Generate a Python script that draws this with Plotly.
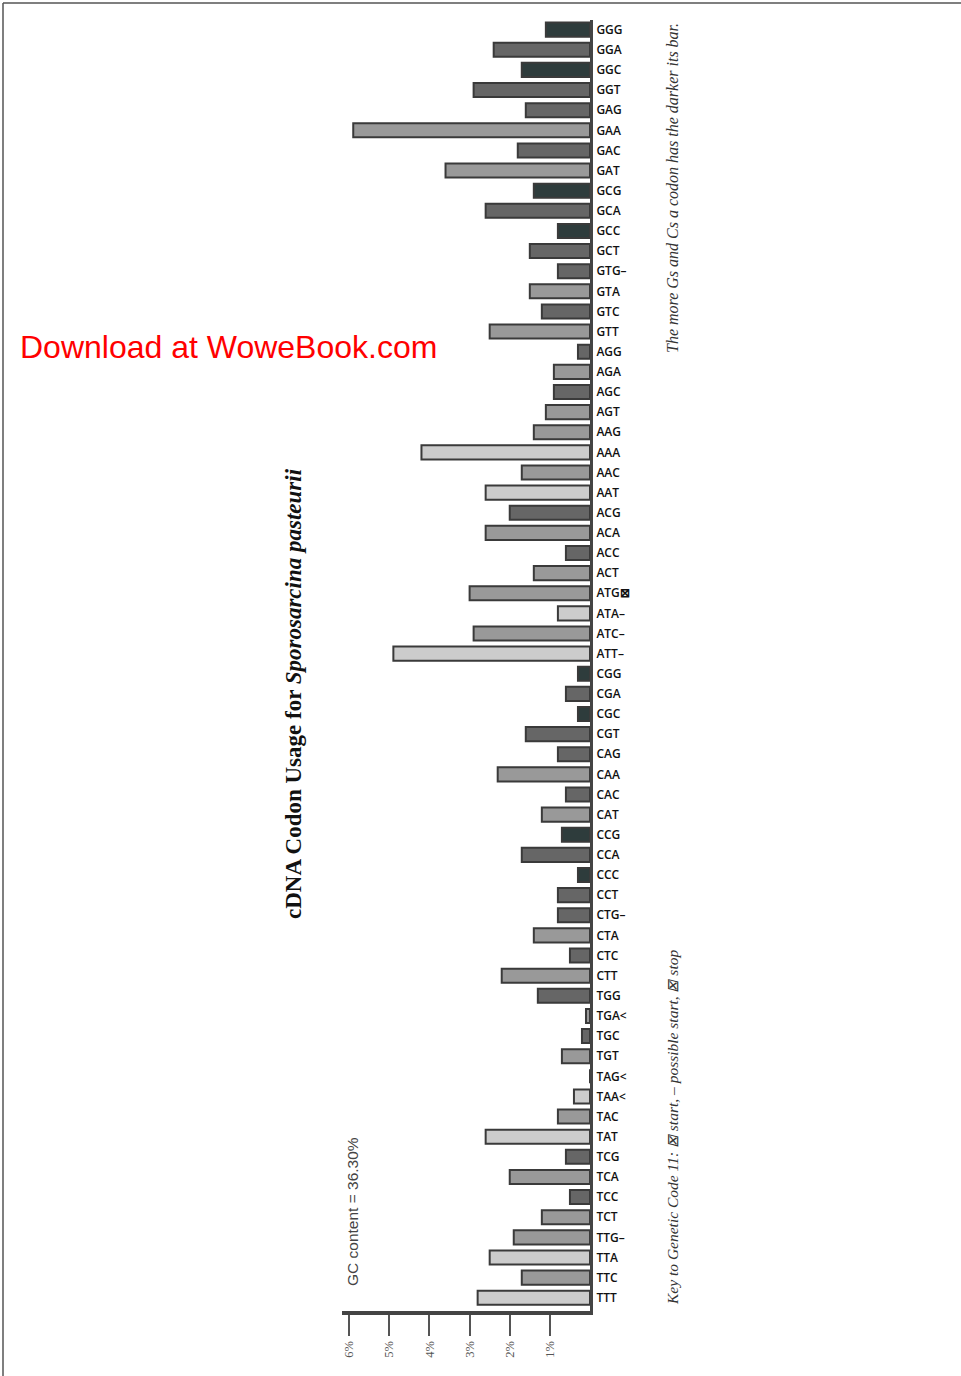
import plotly.graph_objects as go

codons = [
    "GGG", "GGA", "GGC", "GGT", "GAG", "GAA", "GAC", "GAT",
    "GCG", "GCA", "GCC", "GCT", "GTG", "GTA", "GTC", "GTT",
    "AGG", "AGA", "AGC", "AGT", "AAG", "AAA", "AAC", "AAT",
    "ACG", "ACA", "ACC", "ACT", "ATG", "ATA", "ATC", "ATT",
    "CGG", "CGA", "CGC", "CGT", "CAG", "CAA", "CAC", "CAT",
    "CCG", "CCA", "CCC", "CCT", "CTG", "CTA", "CTC", "CTT",
    "TGG", "TGA", "TGC", "TGT", "TAG", "TAA", "TAC", "TAT",
    "TCG", "TCA", "TCC", "TCT", "TTG", "TTA", "TTC", "TTT",
]

# usage in percent
usage_pct = [
    1.1, 2.4, 1.7, 2.9, 1.6, 5.9, 1.8, 3.6,
    1.4, 2.6, 0.8, 1.5, 0.8, 1.5, 1.2, 2.5,
    0.3, 0.9, 0.9, 1.1, 1.4, 4.2, 1.7, 2.6,
    2.0, 2.6, 0.6, 1.4, 3.0, 0.8, 2.9, 4.9,
    0.3, 0.6, 0.3, 1.6, 0.8, 2.3, 0.6, 1.2,
    0.7, 1.7, 0.3, 0.8, 0.8, 1.4, 0.5, 2.2,
    1.3, 0.1, 0.2, 0.7, 0.0, 0.4, 0.8, 2.6,
    0.6, 2.0, 0.5, 1.2, 1.9, 2.5, 1.7, 2.8,
]

# genetic code 11 markers
start_codons = ["ATG"]
possible_start = ["GTG", "ATA", "ATC", "ATT", "CTG", "TTG"]
stop_codons = ["TGA", "TAG", "TAA"]

tick_vals = [1, 2, 3, 4, 5, 6]
tick_text = ["1%", "2%", "3%", "4%", "5%", "6%"]

gc_colors = {0: "#cccccc", 1: "#999999", 2: "#666666", 3: "#2e3c3c"}


def label_for(c):
    if c in start_codons:
        return c + "\u22a0"
    if c in possible_start:
        return c + "\u2013"
    if c in stop_codons:
        return c + "<"
    return c


labels = [label_for(c) for c in codons]
colors = [gc_colors[c.count("G") + c.count("C")] for c in codons]

# page geometry (pixels); body margin is removed in post_script
W, H = 961, 1376
L, R, T, B = 342, 590, 20, 1311


def px_x(px):
    return (px - L) / (R - L)


def px_y(py):
    return (B - py) / (B - T)


fig = go.Figure(
    go.Bar(
        x=usage_pct,
        y=labels,
        orientation="h",
        marker=dict(color=colors, line=dict(color="#3a3a3a", width=2)),
        hoverinfo="x+y",
    )
)

fig.update_layout(
    width=W,
    height=H,
    margin=dict(l=L, r=W - R, t=T, b=H - B),
    plot_bgcolor="white",
    paper_bgcolor="white",
    bargap=0.3,
    showlegend=False,
)

fig.update_xaxes(
    range=[6.18, 0],
    tickvals=tick_vals,
    ticktext=tick_text,
    tickangle=-90,
    ticks="outside",
    ticklen=21,
    tickwidth=2,
    tickcolor="#555555",
    tickfont=dict(family="Liberation Serif", size=12.5, color="#555555"),
    showline=True,
    linewidth=4,
    linecolor="#444444",
    showgrid=False,
    zeroline=False,
)

fig.update_yaxes(
    categoryorder="array",
    categoryarray=labels,
    range=[63.66, -0.48],
    side="right",
    showline=True,
    linewidth=3,
    linecolor="#444444",
    ticks="",
    ticklabelstandoff=1,
    tickfont=dict(family="Open Sans", size=12, color="#111111", weight=600),
    showgrid=False,
)

# page frame
fig.add_shape(type="line", xref="paper", yref="paper",
              x0=px_x(3), x1=px_x(W + 10), y0=px_y(3), y1=px_y(3),
              line=dict(color="#555555", width=1.5))
fig.add_shape(type="line", xref="paper", yref="paper",
              x0=px_x(3), x1=px_x(3), y0=px_y(3), y1=px_y(H + 10),
              line=dict(color="#555555", width=1.5))

notes = [
    (293, 694, "<b>cDNA Codon Usage for <i>Sporosarcina pasteurii</i></b>", -90,
     dict(family="Liberation Serif", size=23, color="#111111")),
    (352, 1212, "GC content = 36.30%", -90,
     dict(family="Liberation Sans", size=15.5, color="#444444")),
    (672, 188, "<i>The more Gs and Cs a codon has the darker its bar.</i>", -90,
     dict(family="Liberation Serif", size=16, color="#333333")),
    (672, 1128, "<i>Key to Genetic Code 11: \u22a0 start, \u2013 possible start, \u22a0 stop</i>", -90,
     dict(family="Liberation Serif", size=15.5, color="#333333")),
    (228, 347, "Download at WoweBook.com", 0,
     dict(family="Liberation Sans", size=32, color="#ff0000")),
]
for px, py, text, ang, font in notes:
    fig.add_annotation(
        x=px_x(px), y=px_y(py), xref="paper", yref="paper",
        xanchor="center", yanchor="middle",
        text=text, textangle=ang, showarrow=False, font=font,
    )

fig.write_html(
    "out.html",
    config={"displayModeBar": False},
    post_script="document.body.style.margin = '0';",
)
